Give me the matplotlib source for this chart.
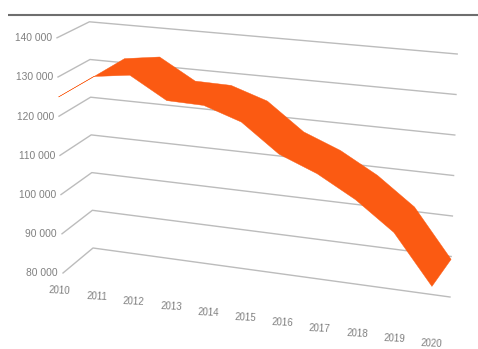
#!/usr/bin/env python3
import numpy as np
import matplotlib
matplotlib.use("Agg")
import matplotlib.pyplot as plt

YEARS = [2010, 2011, 2012, 2013, 2014, 2015, 2016, 2017, 2018, 2019, 2020]
VALUES = [124900, 131100, 132400, 127000, 126800, 123700, 116800, 113100, 107900, 101100, 89300]
Y_TICKS = [80000, 90000, 100000, 110000, 120000, 130000, 140000]
Y_LABELS = ["80 000", "90 000", "100 000", "110 000", "120 000", "130 000", "140 000"]

# Box corners in pixels: (x, y at 80 000, x shift and y shift per 10 000).
FRONT_LEFT = np.array([63, 273, -1.0, -39.2])
BACK_LEFT = np.array([93, 248, -0.6, -37.7])
FRONT_RIGHT = np.array([431, 325, 1.0, -41.5])
BACK_RIGHT = np.array([450, 297, 1.2, -40.5])

GRID_COLOR = "#bcbcbc"
TEXT_COLOR = "#808080"
RIBBON_COLOR = "#fb5a12"
# Years bunch up slightly towards the left of the floor.
DEPTH_BOW = 0.06


def project(year, value, depth):
    # Bilinear walk across the box floor, then lift by the value.
    t = (np.asarray(year, dtype=float) - YEARS[0]) / (YEARS[-1] - YEARS[0])
    t = t - DEPTH_BOW * t * (1 - t)
    u = (np.asarray(value, dtype=float) - Y_TICKS[0]) / 10000
    near = np.multiply.outer(1 - t, FRONT_LEFT) + np.multiply.outer(t, FRONT_RIGHT)
    far = np.multiply.outer(1 - t, BACK_LEFT) + np.multiply.outer(t, BACK_RIGHT)
    c = (1 - depth) * near + depth * far
    return c[..., 0] + u * c[..., 2], c[..., 1] + u * c[..., 3]


fig = plt.figure(figsize=(4.78, 3.49), dpi=100)
ax = fig.add_axes([0, 0, 1, 1])
ax.set_xlim(0, 478)
ax.set_ylim(349, 0)
ax.axis("off")
plt.rcParams["font.family"] = ["Liberation Sans", "DejaVu Sans"]

# rule along the top of the panel
ax.plot([8, 478], [15, 15], color="#6e6e6e", lw=1.5, solid_capstyle="butt")

# one gridline per tick: front corner, back corner, far end of the wall
for tick, label in zip(Y_TICKS, Y_LABELS):
    pts = [project(YEARS[0], tick, 0), project(YEARS[0], tick, 1), project(YEARS[-1], tick, 1)]
    xs, ys = zip(*pts)
    ax.plot(xs, ys, color=GRID_COLOR, lw=1.0, zorder=1)
    ax.text(xs[0] - 5, ys[0] + 0.5, label, ha="right", va="center",
            fontsize=7.4, color=TEXT_COLOR)

# year labels follow the front floor edge, evenly spaced
for i, year in enumerate(YEARS):
    x = 59.5 + 37.2 * i
    y = 291 + 5.3 * i
    ax.text(x, y, str(year), ha="center", va="center", fontsize=7,
            rotation=-3, color=TEXT_COLOR)

# ribbon spanning the depth of the box
fx, fy = project(YEARS, VALUES, 0)
bx, by = project(YEARS, VALUES, 1)
ax.fill(np.r_[fx, bx[::-1]], np.r_[fy, by[::-1]], color=RIBBON_COLOR, lw=0.3, zorder=3)

fig.savefig("out.png", dpi=100)
